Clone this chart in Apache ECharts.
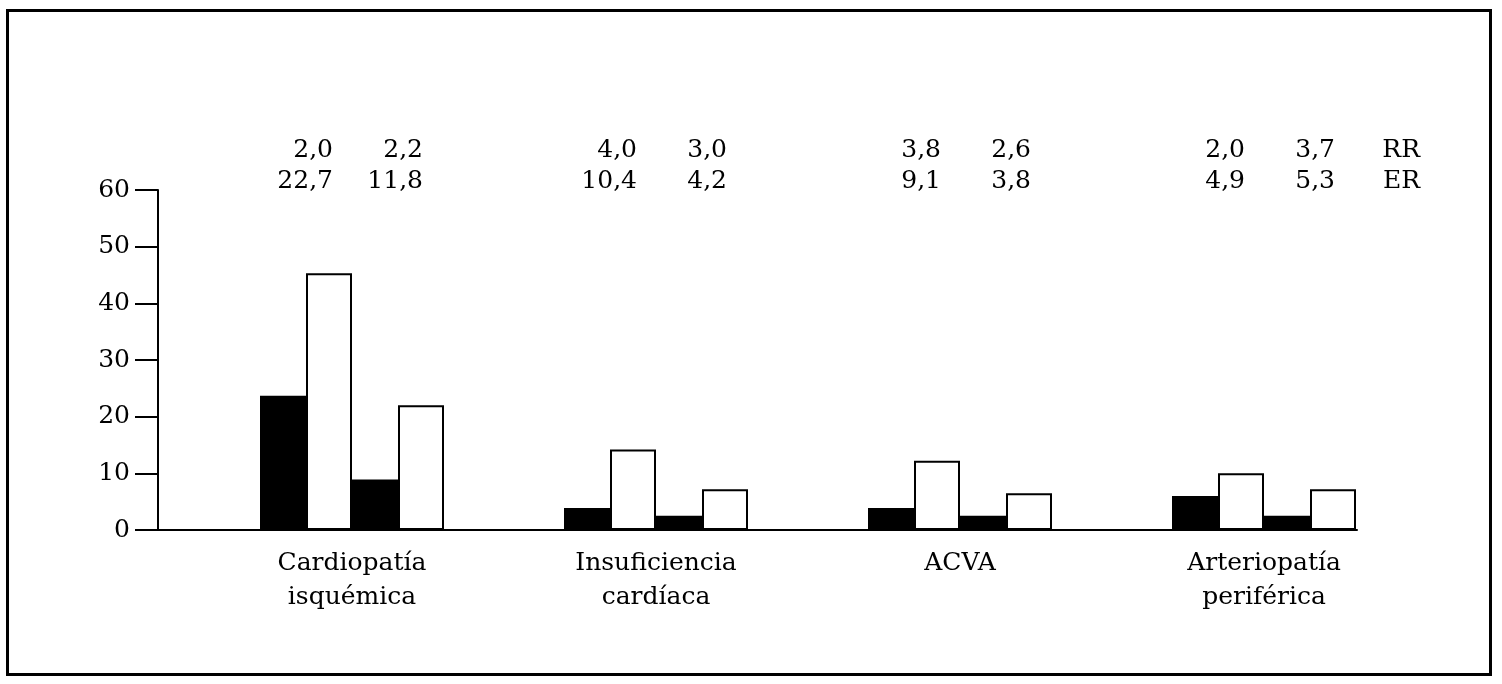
<!DOCTYPE html>
<html>
<head>
<meta charset="utf-8">
<script src="https://cdn.jsdelivr.net/npm/echarts@6/dist/echarts.min.js"></script>
<style>
html,body{margin:0;padding:0;background:#fff;}
#c{width:1502px;height:684px;}
</style>
</head>
<body>
<div id="c"></div>
<script>
var categories = ['Cardiopatía\nisquémica', 'Insuficiencia\ncardíaca', 'ACVA', 'Arteriopatía\nperiférica'];
var black1 = [23.7, 3.9, 3.9, 6.0];
var white1 = [45.3, 14.2, 12.2, 10.0];
var black2 = [8.9, 2.5, 2.5, 2.5];
var white2 = [22.0, 7.2, 6.5, 7.2];
var rr1 = ['2,0', '4,0', '3,8', '2,0'];
var rr2 = ['2,2', '3,0', '2,6', '3,7'];
var er1 = ['22,7', '10,4', '9,1', '4,9'];
var er2 = ['11,8', '4,2', '3,8', '5,3'];
var rowNames = ['RR', 'ER'];
var yTicks = [0, 10, 20, 30, 40, 50, 60];

var FONT = 'DejaVu Serif';
var FS = 25;

var chart = echarts.init(document.getElementById('c'), null, {renderer: 'canvas'});

function topLabel(v, i) {
  var last = i === categories.length - 1;
  return '{a|' + rr1[i] + '}{b|' + rr2[i] + '}{d|' + (last ? rowNames[0] : ' ') + '}{e| }\n' +
         '{a|' + er1[i] + '}{b|' + er2[i] + '}{d|' + (last ? rowNames[1] : ' ') + '}{e| }';
}
var rs = {fontFamily: FONT, fontSize: FS, color: '#000', lineHeight: 31, align: 'right'};
var rich = {
  a: Object.assign({}, rs, {width: 161}),
  b: Object.assign({}, rs, {width: 90}),
  d: Object.assign({}, rs, {width: 85}),
  e: Object.assign({}, rs, {width: 24})
};

var blackStyle = {color: '#000', borderColor: '#000', borderWidth: 0};
var whiteStyle = {color: '#fff', borderColor: '#000', borderWidth: 2};

var option = {
  backgroundColor: '#fff',
  animation: false,
  graphic: [{
    type: 'rect',
    shape: {x: 7.5, y: 10.5, width: 1483, height: 664},
    style: {fill: 'none', stroke: '#000', lineWidth: 3},
    silent: true
  }],
  grid: [
    {left: 200, right: 86, top: 190, bottom: 154},
    {left: 158, right: 145, top: 190, bottom: 154}
  ],
  xAxis: [
    {
      type: 'category', gridIndex: 0, data: categories, position: 'bottom',
      axisLine: {show: false}, axisTick: {show: false},
      axisLabel: {interval: 0, fontFamily: FONT, fontSize: FS, color: '#000', lineHeight: 34, margin: 16}
    },
    {
      type: 'category', gridIndex: 0, data: categories, position: 'top',
      axisLine: {show: false}, axisTick: {show: false},
      axisLabel: {interval: 0, margin: -7, formatter: topLabel, rich: rich}
    },
    {
      type: 'value', gridIndex: 1, min: 0, max: 1, position: 'bottom',
      axisLine: {show: true, lineStyle: {color: '#000', width: 2}},
      axisTick: {show: false}, axisLabel: {show: false}, splitLine: {show: false}
    }
  ],
  yAxis: [
    {
      type: 'value', gridIndex: 0, min: yTicks[0], max: yTicks[yTicks.length - 1], interval: 10,
      offset: 42,
      axisLine: {show: true, lineStyle: {color: '#000', width: 2}},
      axisTick: {show: true, length: 23, lineStyle: {color: '#000', width: 2}},
      axisLabel: {fontFamily: FONT, fontSize: FS, color: '#000', margin: 28},
      splitLine: {show: false}
    },
    {
      type: 'value', gridIndex: 1, min: 0, max: 1, show: false
    }
  ],
  series: [
    {name: 'Grupo 1', type: 'bar', xAxisIndex: 0, yAxisIndex: 0, data: black1, barWidth: 46, barGap: '0%', itemStyle: blackStyle},
    {name: 'Grupo 2', type: 'bar', xAxisIndex: 0, yAxisIndex: 0, data: white1, barWidth: 46, barGap: '0%', itemStyle: whiteStyle},
    {name: 'Grupo 3', type: 'bar', xAxisIndex: 0, yAxisIndex: 0, data: black2, barWidth: 46, barGap: '0%', itemStyle: blackStyle},
    {name: 'Grupo 4', type: 'bar', xAxisIndex: 0, yAxisIndex: 0, data: white2, barWidth: 46, barGap: '0%', itemStyle: whiteStyle}
  ]
};
chart.setOption(option);
</script>
</body>
</html>
